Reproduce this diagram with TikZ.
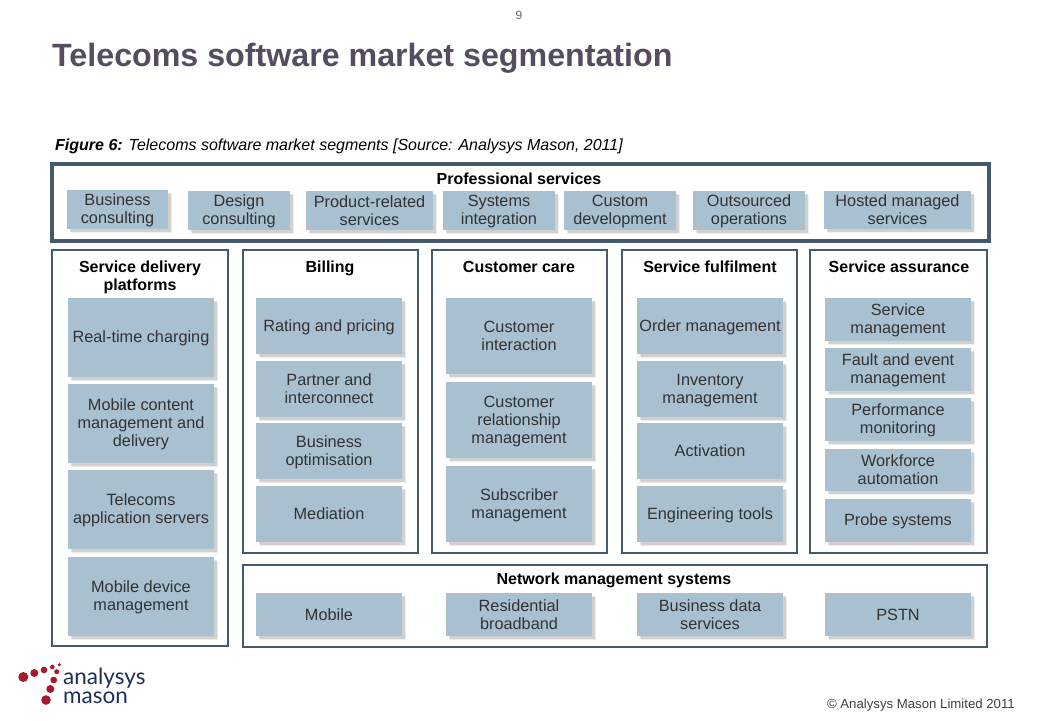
\documentclass[tikz,border=0pt]{standalone}
\usepackage{fontspec}
\setmainfont{Liberation Sans}
\newfontfamily\logofont{Lato}
\usetikzlibrary{positioning,shadows}
\definecolor{framecol}{HTML}{44596B}
\definecolor{boxcol}{HTML}{A9C0D1}
\definecolor{boxtext}{HTML}{333333}
\definecolor{titlecol}{HTML}{574B60}
\definecolor{logored}{HTML}{A6192E}
\definecolor{logoblue}{HTML}{1F2F5C}
\tikzset{
  segbox/.style={
    fill=boxcol, text=boxtext, align=center, inner sep=0pt,
    font=\fontsize{16.3}{18}\selectfont,
    drop shadow={shadow xshift=4pt,shadow yshift=-4pt,fill=black,opacity=.07},
    drop shadow={shadow xshift=2.5pt,shadow yshift=-2.5pt,fill=black,opacity=.12}
  },
  panel/.style={draw=framecol, line width=2pt, inner sep=0pt},
  outerpanel/.style={panel, line width=4.5pt},
  paneltitle/.style={
    font=\fontsize{16}{18}\selectfont\bfseries, align=center, text=black, inner sep=0pt,
    anchor=base
  },
  logodot/.style={circle, fill=logored, inner sep=0pt},
  logotext/.style={font=\fontsize{22.5}{23}\logofont, text=logoblue, anchor=base west, inner sep=0pt}
}
% name, left, top, right, bottom, text
\newcommand{\segbox}[6]{
  \node[segbox, minimum width={(#4-#2)*1pt}, minimum height={(#5-#3)*1pt}]
    (#1) at ({(#2+#4)/2},{(#3+#5)/2}) {\rule{0pt}{13.5pt}#6\rule[-2pt]{0pt}{2pt}};
}
\newcommand{\panelbox}[6][panel]{
  \node[#1, minimum width={(#5-#3)*1pt}, minimum height={(#6-#4)*1pt}]
    (#2) at ({(#3+#5)/2},{(#4+#6)/2}) {};
}
\begin{document}
\begin{tikzpicture}[x=1pt,y=-1pt]
    \useasboundingbox (0,0) rectangle (1040,720);
    % header
    \node[font=\fontsize{12}{14}\selectfont, text=black!60] (pagenum) at (519,15) {9};
    \node[font=\fontsize{32.2}{36}\selectfont\bfseries, text=titlecol, anchor=base west, inner sep=0pt]
      (title) at (52,66) {Telecoms software market segmentation};
    \node[font=\fontsize{16}{18}\selectfont\itshape, anchor=base west, inner sep=0pt]
      (caption) at (55,150) {\textbf{Figure 6:} Telecoms software market segments [Source: Analysys Mason, 2011]};
    % panels
    \panelbox[outerpanel]{prof}{52}{164}{989}{241}
    \panelbox{sdp}{52}{250}{228}{646}
    \panelbox{billing}{243}{250}{418}{553}
    \panelbox{care}{432}{250}{607}{553}
    \panelbox{fulfil}{622}{250}{797}{553}
    \panelbox{assur}{810}{250}{987}{553}
    \panelbox{netman}{243}{565}{987}{647}
    % panel titles
    \node[paneltitle] (proftitle) at (519,184) {Professional services};
    \node[paneltitle] (sdptitle) at (140,290) {Service delivery\\platforms};
    \foreach \nm/\cx/\txt in {billing/330/Billing,care/519/Customer care,fulfil/710/Service fulfilment,assur/899/Service assurance}
      \node[paneltitle] (\nm title) at (\cx,272) {\txt};
    \node[paneltitle] (nettitle) at (614,584) {Network management systems};
    % professional services
    \segbox{pbus}{67}{190}{168}{229}{Business\\consulting}
    \segbox{pdes}{188}{191}{290}{230}{Design\\consulting}
    \segbox{ppro}{306}{191}{433}{230}{Product-related\\services}
    \segbox{psys}{443}{191}{555}{230}{Systems\\integration}
    \segbox{pcus}{564}{191}{676}{230}{Custom\\development}
    \segbox{pout}{693}{191}{805}{230}{Outsourced\\operations}
    \segbox{phos}{824}{191}{971}{229}{Hosted managed\\services}
    % service delivery platforms
    \segbox{sreal}{68}{298}{214}{377}{Real-time charging}
    \segbox{smob}{68}{384}{214}{463}{Mobile content\\management and\\delivery}
    \segbox{stel}{68}{470}{214}{549}{Telecoms\\application servers}
    \segbox{sdev}{68}{557}{214}{636}{Mobile device\\management}
    % billing
    \segbox{brat}{256}{298}{402}{354}{Rating and pricing}
    \segbox{bpar}{256}{361}{402}{417}{Partner and\\interconnect}
    \segbox{bbus}{256}{423}{402}{479}{Business\\optimisation}
    \segbox{bmed}{256}{486}{402}{542}{Mediation}
    % customer care
    \segbox{cint}{446}{298}{592}{374}{Customer\\interaction}
    \segbox{crel}{446}{382}{592}{458}{Customer\\relationship\\management}
    \segbox{csub}{446}{466}{592}{542}{Subscriber\\management}
    % service fulfilment
    \segbox{ford}{637}{298}{783}{354}{Order management}
    \segbox{finv}{637}{361}{783}{417}{Inventory\\management}
    \segbox{fact}{637}{423}{783}{479}{Activation}
    \segbox{feng}{637}{486}{783}{542}{Engineering tools}
    % service assurance
    \segbox{aser}{825}{298}{971}{341}{Service\\management}
    \segbox{afau}{825}{348}{971}{391}{Fault and event\\management}
    \segbox{aper}{825}{398}{971}{441}{Performance\\monitoring}
    \segbox{awor}{825}{449}{971}{491}{Workforce\\automation}
    \segbox{apro}{825}{499}{971}{542}{Probe systems}
    % network management
    \segbox{nmob}{256}{593}{402}{636}{Mobile}
    \segbox{nres}{446}{593}{592}{636}{Residential\\broadband}
    \segbox{nbus}{637}{593}{783}{636}{Business data\\services}
    \segbox{npst}{825}{593}{971}{636}{PSTN}
    % logo and footer
    \foreach \i/\x/\y/\d in {1/23.3/677/10,2/34.3/673/8,3/44/670/6.6,4/52.3/667/4.6,5/59.3/664.7/3.4,6/56.7/671.7/5,7/53.7/680/6.8,8/50.3/689/8,9/46/700/9.6}
      \node[logodot, minimum size=\d pt] (dot\i) at (\x,\y) {};
    \node[logotext] (logotop) at (63,684.5) {analysys};
    \node[logotext] (logobottom) at (63,703.5) {mason};
    \node[font=\fontsize{13.2}{15}\selectfont, text=black!75, anchor=east, inner sep=0pt]
      (copyright) at (1015,705) {© Analysys Mason Limited 2011};
\end{tikzpicture}
\end{document}
